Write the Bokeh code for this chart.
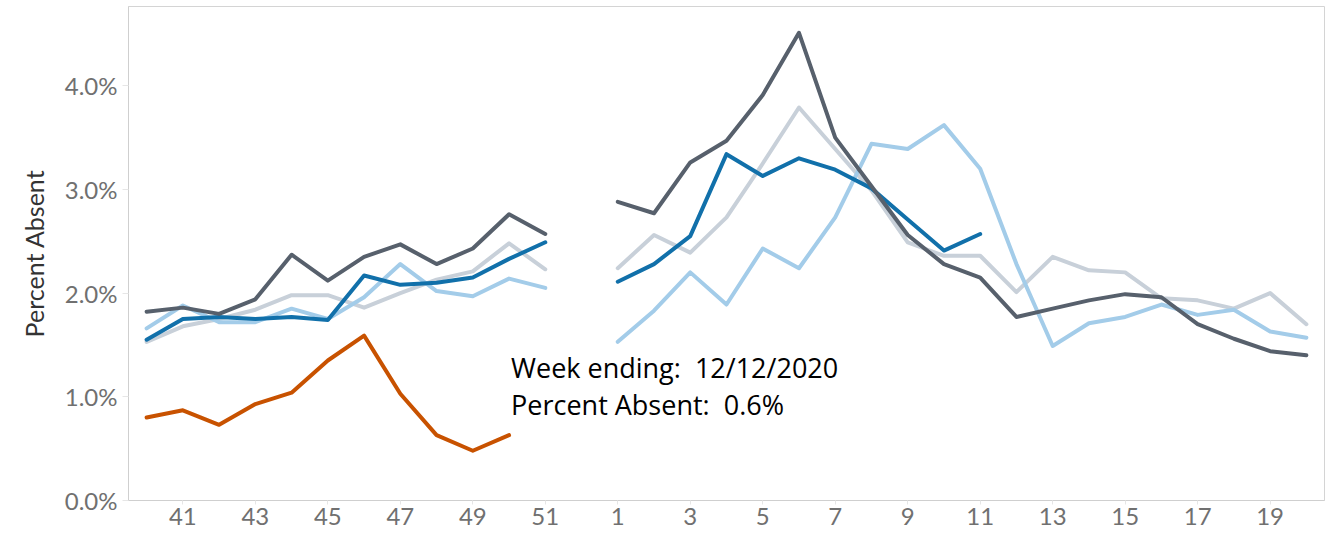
import numpy as np
from bokeh.plotting import figure
from bokeh.models import FixedTicker, PrintfTickFormatter, Label, Range1d, ColumnDataSource
from bokeh.embed import file_html
from bokeh.resources import INLINE

# ---- data -------------------------------------------------------------
weeks = [str(w) for w in range(40, 53)] + [str(w) for w in range(1, 21)]

# school-year series (percent absent), None = no data
sy_dark = [1.82, 1.86, 1.80, 1.94, 2.37, 2.12, 2.35, 2.47, 2.28, 2.43, 2.76, 2.57, None,
           2.88, 2.77, 3.26, 3.47, 3.91, 4.51, 3.50, 3.03, 2.56, 2.28, 2.15, 1.77,
           1.85, 1.93, 1.99, 1.96, 1.70, 1.56, 1.44, 1.40]
sy_blue = [1.55, 1.75, 1.77, 1.75, 1.77, 1.74, 2.17, 2.08, 2.10, 2.15, 2.33, 2.49, None,
           2.11, 2.28, 2.55, 3.34, 3.13, 3.30, 3.19, 3.01, 2.71, 2.41, 2.57, None,
           None, None, None, None, None, None, None, None]
sy_lightblue = [1.66, 1.88, 1.72, 1.72, 1.85, 1.75, 1.96, 2.28, 2.02, 1.97, 2.14, 2.05, None,
                1.53, 1.83, 2.20, 1.89, 2.43, 2.24, 2.73, 3.44, 3.39, 3.62, 3.20, 2.28,
                1.49, 1.71, 1.77, 1.89, 1.79, 1.84, 1.63, 1.57]
sy_lightgray = [1.53, 1.68, 1.75, 1.84, 1.98, 1.98, 1.86, 2.00, 2.13, 2.21, 2.48, 2.23, None,
                2.24, 2.56, 2.39, 2.73, 3.25, 3.79, 3.39, 2.99, 2.49, 2.36, 2.36, 2.01,
                2.35, 2.22, 2.20, 1.95, 1.93, 1.85, 2.00, 1.70]
sy_current = [0.80, 0.87, 0.73, 0.93, 1.04, 1.35, 1.59, 1.03, 0.63, 0.48, 0.63, None, None,
              None, None, None, None, None, None, None, None, None, None, None, None,
              None, None, None, None, None, None, None, None]

y_ticks = [0, 1, 2, 3, 4]
annot_week_ending = "12/12/2020"

series = [
    (sy_lightgray, "#c8d0d9"),
    (sy_lightblue, "#a3cce9"),
    (sy_blue, "#1170aa"),
    (sy_dark, "#57606c"),
    (sy_current, "#c85200"),
]

TICK_FONT = "Lato"
TICK_SIZE = "24px"
TICK_COLOR = "#707070"

# ---- figure -----------------------------------------------------------
x_idx = list(range(len(weeks)))

p = figure(width=1325, height=537, output_backend="svg", toolbar_location=None,
           x_range=Range1d(-0.5, len(weeks) - 0.5), y_range=Range1d(0, 4.764),
           min_border_left=128, min_border_right=1, min_border_top=6, min_border_bottom=37)

p.background_fill_color = "white"
p.border_fill_color = "white"
p.outline_line_color = "#d4d4d4"
p.outline_line_width = 1
p.xgrid.visible = False
p.ygrid.visible = False

for vals, col in series:
    y = np.array([np.nan if v is None else v for v in vals], dtype=float)
    src = ColumnDataSource(dict(x=x_idx, y=y))
    p.line("x", "y", source=src, line_color=col, line_width=4,
           line_join="round", line_cap="round")

# x axis: odd week labels only
odd_idx = [i for i, w in enumerate(weeks) if int(w) % 2 == 1]
p.xaxis.ticker = FixedTicker(ticks=odd_idx)
p.xaxis.major_label_overrides = {i: weeks[i] for i in odd_idx}
p.xaxis.minor_tick_line_color = None
p.xaxis.major_tick_in = 0
p.xaxis.major_tick_out = 4
p.xaxis.major_tick_line_color = "#e6e6e6"
p.xaxis.axis_line_color = "#cfcfcf"
p.xaxis.major_label_standoff = 3
p.xaxis.major_label_text_font = TICK_FONT
p.xaxis.major_label_text_font_size = TICK_SIZE
p.xaxis.major_label_text_color = TICK_COLOR

# y axis
p.yaxis.ticker = FixedTicker(ticks=y_ticks)
p.yaxis.formatter = PrintfTickFormatter(format="%.1f%%")
p.yaxis.minor_tick_line_color = None
p.yaxis.major_tick_in = 0
p.yaxis.major_tick_out = 6
p.yaxis.major_tick_line_color = "#e6e6e6"
p.yaxis.axis_line_color = "#cfcfcf"
p.yaxis.major_label_standoff = 5
p.yaxis.major_label_text_font = TICK_FONT
p.yaxis.major_label_text_font_size = TICK_SIZE
p.yaxis.major_label_text_color = TICK_COLOR
p.yaxis.axis_label = "Percent Absent"
p.yaxis.axis_label_text_font = "Lato"
p.yaxis.axis_label_text_font_size = "25px"
p.yaxis.axis_label_text_font_style = "normal"
p.yaxis.axis_label_text_color = "#333333"
p.yaxis.axis_label_standoff = 13

# annotation anchored at the last point of the current year
last_i = max(i for i, v in enumerate(sy_current) if v is not None)
last_v = sy_current[last_i]
nb = "\u00a0"
for txt, off in [(f"Week ending:{nb} {annot_week_ending}", 68),
                 (f"Percent Absent:{nb} {last_v:.1f}%", 31)]:
    p.add_layout(Label(x=last_i, y=last_v, x_offset=2, y_offset=off, text=txt,
                       text_font="Open Sans", text_font_size="27px",
                       text_color="black", text_baseline="alphabetic"))

open("out.html", "w").write(file_html(p, INLINE))
